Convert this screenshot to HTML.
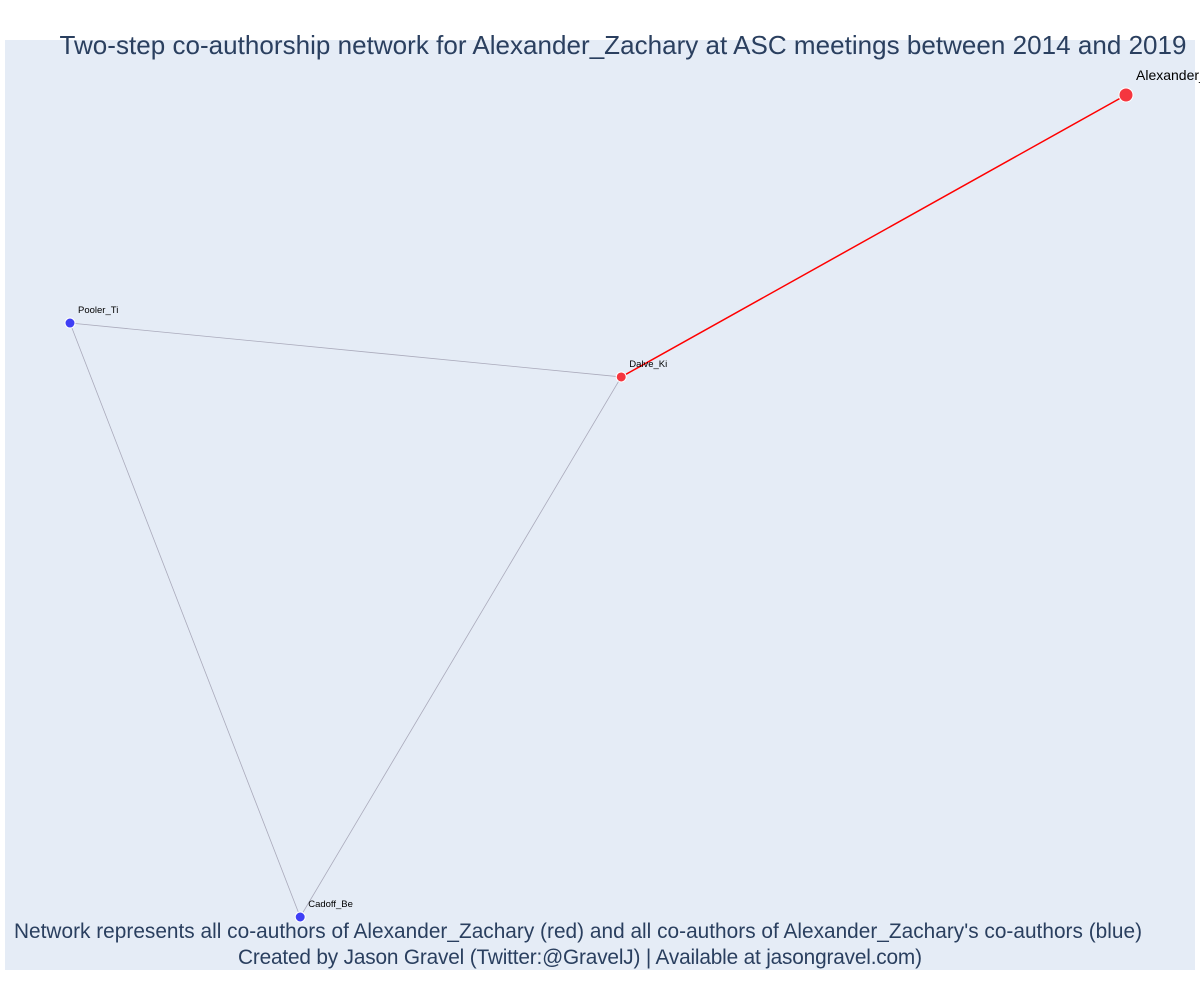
<!DOCTYPE html>
<html><head><meta charset="utf-8"><style>body{margin:0;background:#fff}svg{display:block;font-family:"Liberation Sans",sans-serif}</style></head>
<body>
<svg id="chart" width="1200" height="1000">
<rect x="5" y="40" width="1190" height="930" fill="#e5ecf6"/>
<g id="edges"></g>
<g id="nodes"></g>
<text x="623" y="54" text-anchor="middle" font-size="26" textLength="1127" fill="#2a3f5f">Two-step co-authorship network for Alexander_Zachary at ASC meetings between 2014 and 2019</text>
<text x="578" y="938" text-anchor="middle" font-size="20.8" textLength="1128" fill="#2a3f5f">Network represents all co-authors of Alexander_Zachary (red) and all co-authors of Alexander_Zachary's co-authors (blue)</text>
<text x="580" y="964" text-anchor="middle" font-size="20.8" textLength="684" fill="#2a3f5f">Created by Jason Gravel (Twitter:@GravelJ) | Available at jasongravel.com)</text>
</svg>
<script>
const nodeNames = ["Alexander_Zachary","Dalve_Ki","Pooler_Ti","Cadoff_Be"];
const nodeX = [1.0, 0.522, 0.0, 0.218];
const nodeY = [1.0, 0.657, 0.7226, 0.0];
const nodeGroup = ["ego","red","blue","blue"];
const edgeFrom = [0,1,1,2];
const edgeTo = [1,2,3,3];
const NS="http://www.w3.org/2000/svg";
function sx(v){return 70+v*(1126-70)/1.0;}
function sy(v){return 917-v*(917-95)/1.0;}
const eg=document.getElementById('edges'), ng=document.getElementById('nodes');
for(let i=0;i<edgeFrom.length;i++){
  const a=edgeFrom[i],b=edgeTo[i];
  const l=document.createElementNS(NS,'line');
  l.setAttribute('x1',sx(nodeX[a]));l.setAttribute('y1',sy(nodeY[a]));
  l.setAttribute('x2',sx(nodeX[b]));l.setAttribute('y2',sy(nodeY[b]));
  const red=(a===0||b===0);
  l.setAttribute('stroke',red?'#ff0000':'#aaaabb');
  l.setAttribute('stroke-width',red?1.5:0.8);
  
  
  eg.appendChild(l);
}
for(let i=0;i<nodeNames.length;i++){
  const c=document.createElementNS(NS,'circle');
  const x=sx(nodeX[i]),y=sy(nodeY[i]);
  c.setAttribute('cx',x);c.setAttribute('cy',y);
  const g=nodeGroup[i];
  c.setAttribute('r',g==='ego'?7:5);
  c.setAttribute('fill',g==='blue'?'#3f3ff5':'#f5363f');
  c.setAttribute('stroke','#ffffff');c.setAttribute('stroke-width',1);
  
  
  ng.appendChild(c);
  const t=document.createElementNS(NS,'text');
  t.setAttribute('x',x+(g==='ego'?10:8));t.setAttribute('y',y-(g==='ego'?15:10));
  t.setAttribute('font-size',g==='ego'?14:9.5);
  t.setAttribute('fill','#000');
  t.textContent=nodeNames[i];
  
  
  ng.appendChild(t);
}
</script>
</body></html>
